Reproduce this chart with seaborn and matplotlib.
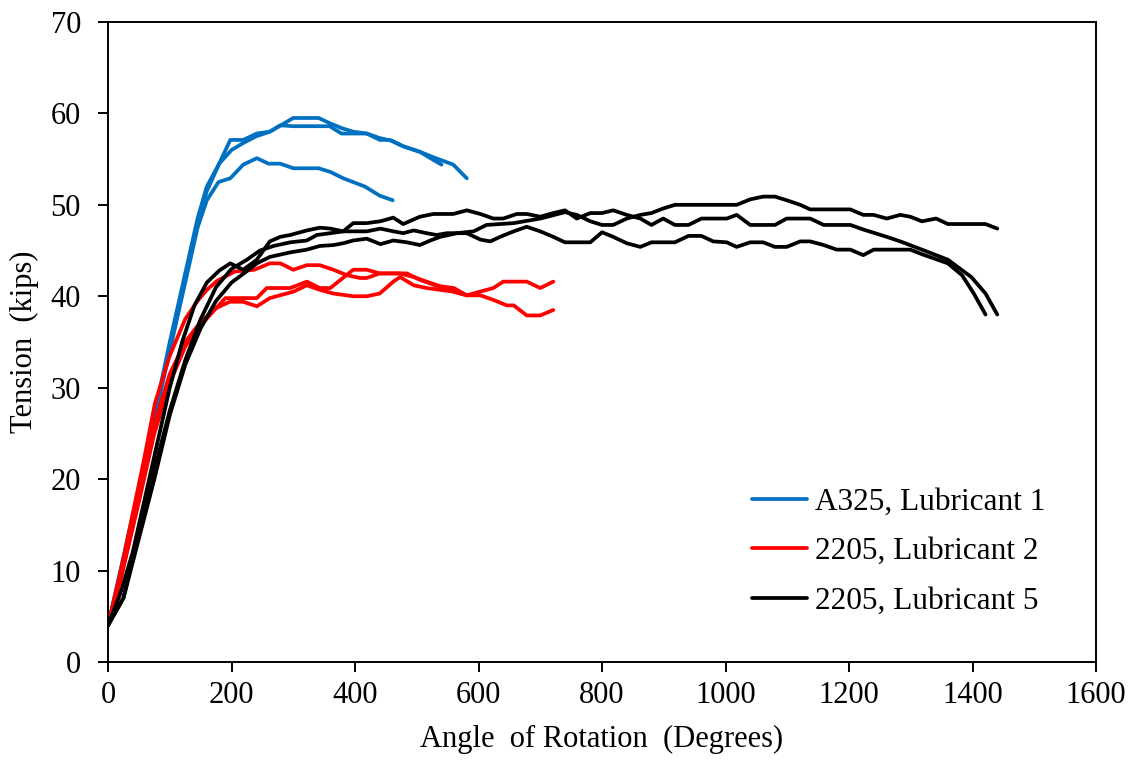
import numpy as np
import pandas as pd
import matplotlib
matplotlib.use("Agg")
import matplotlib.pyplot as plt
import seaborn as sns

# Tension vs. angle of rotation, three bolt/lubricant groups with three tests each
labels = ["A325, Lubricant 1", "2205, Lubricant 2", "2205, Lubricant 5"]
colors = ["#0070C0", "#FF0000", "#000000"]

# A325, Lubricant 1
a325_t1_angle = [0, 25, 50, 75, 100, 125, 145, 160, 180, 200, 220, 240, 262, 280, 300, 341, 360, 378, 397, 419, 440, 460, 478, 505, 527, 540]
a325_t1_tension = [4, 11.5, 19, 27, 35, 42.5, 48.5, 52, 54.5, 56, 56.8, 57.5, 58, 58.7, 59.5, 59.5, 58.9, 58.4, 58, 57.8, 57.3, 57.0, 56.4, 55.8, 54.9, 54.4]
a325_t2_angle = [0, 25, 50, 75, 100, 125, 145, 160, 180, 198, 219, 241, 262, 279, 300, 359, 378, 419, 440, 456, 478, 505, 527, 559, 581]
a325_t2_tension = [4, 11, 18.5, 26.5, 34.5, 42, 48, 51.5, 54.5, 57.1, 57.1, 57.8, 58, 58.7, 58.6, 58.6, 57.8, 57.8, 57.1, 57.1, 56.4, 55.8, 55.2, 54.4, 52.9]
a325_t3_angle = [0, 25, 50, 75, 100, 125, 145, 160, 179, 198, 219, 241, 260, 279, 300, 341, 360, 381, 416, 440, 461]
a325_t3_tension = [4, 11, 18.5, 26.5, 34, 41.5, 47.5, 50.5, 52.5, 52.9, 54.4, 55.1, 54.5, 54.5, 54, 54, 53.6, 52.9, 52, 51, 50.5]

# 2205, Lubricant 2
l2_t1_angle = [0, 22, 57, 76, 100, 125, 145, 160, 177, 205, 237, 262, 279, 300, 322, 343, 365, 387, 408, 419, 440, 473, 495, 516, 538, 560, 581]
l2_t1_tension = [4, 10.4, 21.7, 28.3, 33.5, 37.5, 39.5, 40.7, 41.7, 42.7, 42.9, 43.6, 43.6, 42.9, 43.4, 43.4, 42.9, 42.3, 42, 42, 42.5, 42.5, 42.1, 41.6, 41.1, 40.9, 40.1]
l2_t2_angle = [0, 22, 50, 75, 100, 125, 150, 175, 190, 219, 241, 257, 295, 322, 343, 360, 397, 419, 440, 484, 505, 538, 560, 581, 603, 624, 646, 657, 678, 700, 721]
l2_t2_tension = [4, 9.5, 18, 26, 31.5, 35, 37.2, 38.7, 39.8, 39.8, 39.8, 40.9, 40.9, 41.6, 40.9, 40.9, 42.9, 42.9, 42.5, 42.5, 41.8, 41.0, 40.5, 40.1, 40.1, 39.6, 39, 39, 37.9, 37.9, 38.5]
l2_t3_angle = [0, 22, 50, 75, 100, 125, 150, 175, 197, 219, 241, 262, 300, 322, 343, 365, 397, 419, 440, 462, 473, 495, 516, 538, 560, 581, 602, 624, 640, 678, 700, 721]
l2_t3_tension = [4, 9.5, 17.5, 25, 30.5, 34.5, 36.8, 38.7, 39.4, 39.4, 38.9, 39.8, 40.5, 41.2, 40.7, 40.3, 40, 40, 40.3, 41.6, 42.1, 41.2, 40.9, 40.7, 40.5, 40.1, 40.5, 40.9, 41.6, 41.6, 40.9, 41.6]

# 2205, Lubricant 5
l5_t1_angle = [0, 20, 40, 60, 80, 100, 120, 140, 160, 180, 198, 219, 241, 262, 279, 295, 322, 343, 360, 381, 397, 419, 441, 462, 478, 505, 527, 559, 581, 603, 624, 640, 662, 678, 700,
               721, 740, 759, 781, 800, 818, 840, 862, 880, 899, 918, 940, 961, 1002, 1018, 1040, 1080, 1099, 1137, 1159, 1202, 1223, 1261, 1283, 1318, 1360, 1398, 1421, 1440]
l5_t1_tension = [4, 7.5, 12, 18, 24, 30, 35, 39, 41.5, 42.8, 43.6, 42.9, 44, 46, 46.5, 46.7, 47.2, 47.5, 47.4, 47.1, 48, 48, 48.2, 48.6, 47.9, 48.7, 49, 49, 49.4, 49, 48.5, 48.5, 49, 49, 48.7,
                 49.1, 49.4, 48.5, 49.1, 49.1, 49.4, 48.9, 48.5, 47.8, 48.5, 47.8, 47.8, 48.5, 48.5, 48.9, 47.8, 47.8, 48.5, 48.5, 47.8, 47.8, 47.3, 46.5, 46.0, 45.1, 44.0, 42.1, 40.3, 38]
l5_t2_angle = [0, 25, 50, 75, 100, 125, 150, 175, 200, 225, 246, 268, 295, 322, 338, 360, 381, 403, 419, 441, 462, 478, 495, 516, 532, 549, 581, 603, 619, 635, 657, 678, 700,
               721, 740, 781, 800, 818, 840, 862, 880, 918, 940, 961, 980, 1002, 1018, 1040, 1061, 1080, 1099, 1121, 1137, 1159, 1180, 1202, 1223, 1240, 1299, 1318, 1360, 1383, 1402, 1421]
l5_t2_tension = [4, 7, 14, 21, 27.5, 33, 37.5, 41, 43, 44, 45, 45.5, 45.9, 46.1, 46.7, 46.9, 47.1, 47.1, 47.1, 47.4, 47.1, 46.9, 47.2, 46.9, 46.7, 46.9, 46.9, 46.2, 46, 46.5, 47.1, 47.6, 47.1,
                 46.5, 45.9, 45.9, 47, 46.5, 45.8, 45.4, 45.9, 45.9, 46.6, 46.6, 46, 45.9, 45.4, 45.9, 45.9, 45.4, 45.4, 46, 46, 45.6, 45.1, 45.1, 44.5, 45.1, 45.1, 44.6, 43.6, 42.3, 40.3, 38]
l5_t3_angle = [0, 25, 50, 75, 100, 125, 150, 175, 200, 220, 241, 262, 295, 322, 343, 365, 381, 397, 419, 441, 462, 484, 505, 522, 538, 565, 592, 613, 657, 700,
               740, 759, 781, 800, 818, 840, 862, 880, 899, 918, 1018, 1040, 1061, 1080, 1099, 1121, 1137, 1202, 1223, 1240, 1261, 1283, 1299, 1318, 1341, 1360, 1421, 1440]
l5_t3_tension = [4, 7, 13.5, 20, 27, 32.5, 36.5, 39.5, 41.5, 42.5, 43.6, 44.3, 44.8, 45.1, 45.5, 45.6, 45.8, 46.1, 46.3, 45.7, 46.1, 45.9, 45.6, 46.1, 46.5, 46.9, 47.1, 47.8, 48, 48.5,
                 49.2, 48.9, 48.2, 47.8, 47.8, 48.5, 48.9, 49.1, 49.6, 50, 50, 50.6, 50.9, 50.9, 50.5, 50, 49.5, 49.5, 48.9, 48.9, 48.5, 48.9, 48.7, 48.2, 48.5, 47.9, 47.9, 47.4]

series = [
    (labels[0], "A1", a325_t1_angle, a325_t1_tension),
    (labels[0], "A2", a325_t2_angle, a325_t2_tension),
    (labels[0], "A3", a325_t3_angle, a325_t3_tension),
    (labels[1], "B1", l2_t1_angle, l2_t1_tension),
    (labels[1], "B2", l2_t2_angle, l2_t2_tension),
    (labels[1], "B3", l2_t3_angle, l2_t3_tension),
    (labels[2], "C1", l5_t1_angle, l5_t1_tension),
    (labels[2], "C2", l5_t2_angle, l5_t2_tension),
    (labels[2], "C3", l5_t3_angle, l5_t3_tension),
]

frames = []
for grp, test, ang, ten in series:
    frames.append(pd.DataFrame({"angle": ang, "tension": ten, "group": grp, "test": test}))
df = pd.concat(frames, ignore_index=True)

sns.set_theme(style="white")
plt.rcParams["font.family"] = ["Liberation Serif", "DejaVu Serif"]
for key in ("text.color", "axes.labelcolor", "xtick.color", "ytick.color", "axes.edgecolor"):
    plt.rcParams[key] = "black"

fig = plt.figure(figsize=(11.37, 7.63), dpi=100)
ax = fig.add_axes([0.095, 0.1324, 0.869, 0.8388])

sns.lineplot(data=df, x="angle", y="tension", hue="group", units="test",
             estimator=None, sort=False, palette=dict(zip(labels, colors)),
             hue_order=labels, linewidth=2.7, ax=ax)

ax.set_xlim(0, 1600)
ax.set_ylim(0, 70)
ax.set_xticks(np.arange(0, 1601, 200))
ax.set_yticks(np.arange(0, 71, 10))
ax.set_xlabel("Angle  of Rotation  (Degrees)", fontsize=22, labelpad=11)
ax.set_ylabel("Tension  (kips)", fontsize=22, labelpad=8)
ax.tick_params(axis="both", which="major", direction="out", length=7.5, width=1.4,
               labelsize=22, color="black", labelcolor="black", bottom=True, left=True)
ax.tick_params(axis="x", pad=6)
ax.tick_params(axis="y", pad=12)
for s in ax.spines.values():
    s.set_color("black")
    s.set_linewidth(1.4)

handles, _ = ax.get_legend_handles_labels()
ax.legend(handles=handles, labels=labels, loc="lower right", frameon=False,
          fontsize=22.5, handlelength=1.75, handletextpad=0.25, labelspacing=0.66,
          bbox_to_anchor=(0.977, 0.028))

fig.savefig("out.png", dpi=100)
